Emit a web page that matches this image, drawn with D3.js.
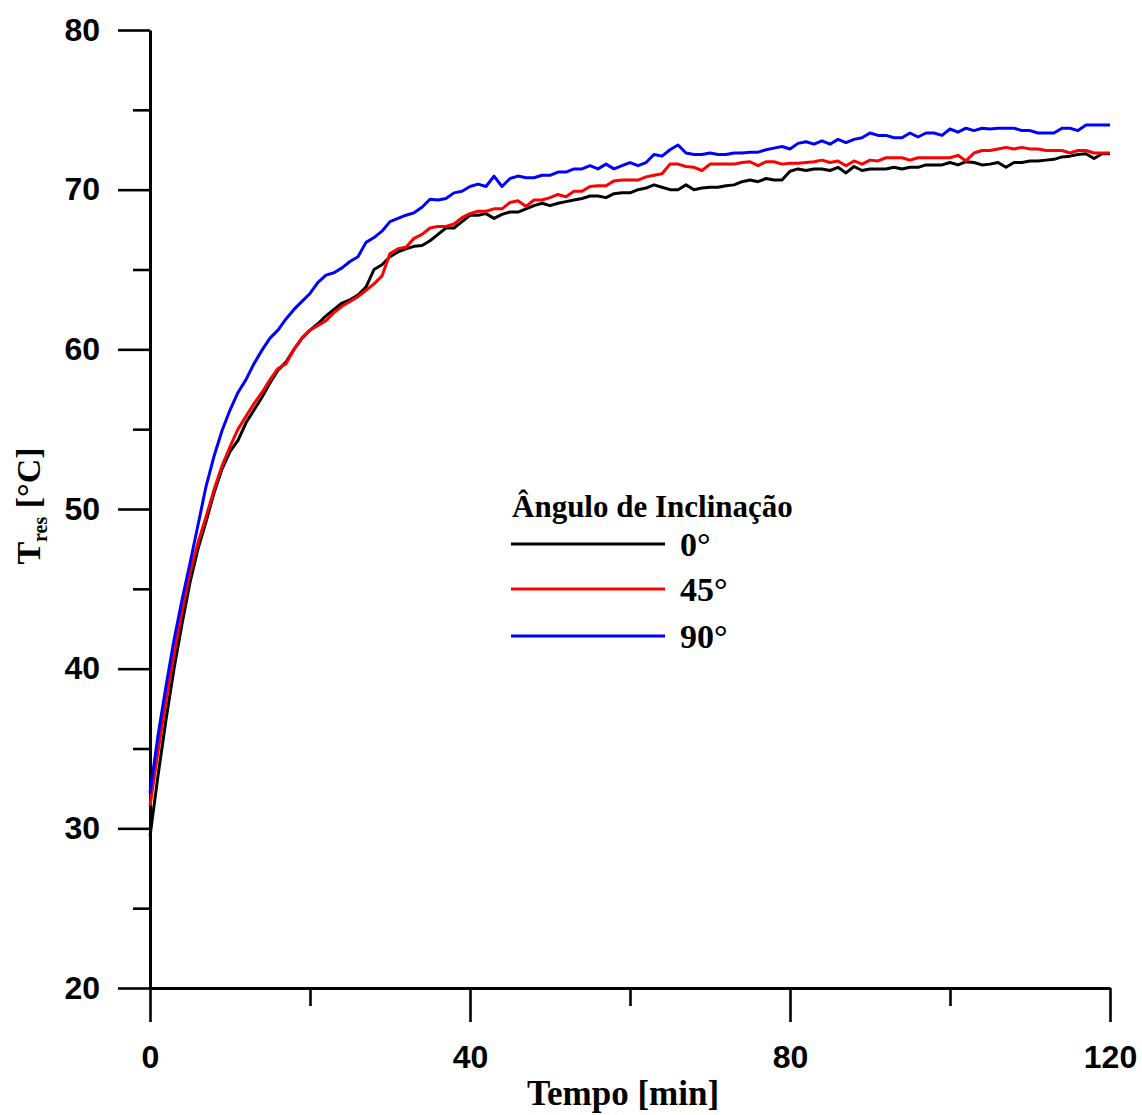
<!DOCTYPE html>
<html>
<head>
<meta charset="utf-8">
<script src="https://cdn.jsdelivr.net/npm/d3@7"></script>
<style>
  html, body { margin: 0; padding: 0; background: #fff; }
  svg { display: block; }
  .tick text { font-family: "Liberation Sans", Arial, sans-serif; font-weight: bold; font-size: 32px; fill: #000; }
  .serif { font-family: "Liberation Serif", "Times New Roman", serif; font-weight: bold; fill: #000; }
</style>
</head>
<body>
<svg id="chart" width="1142" height="1115"></svg>
<script>
// ---- data ----
const tempo = [0,1,2,3,4,5,6,7,8,9,10,11,12,13,14,15,16,17,18,19,20,21,22,23,24,25,26,27,28,29,30,31,32,33,34,35,36,37,38,39,40,41,42,43,44,45,46,47,48,49,50,51,52,53,54,55,56,57,58,59,60,61,62,63,64,65,66,67,68,69,70,71,72,73,74,75,76,77,78,79,80,81,82,83,84,85,86,87,88,89,90,91,92,93,94,95,96,97,98,99,100,101,102,103,104,105,106,107,108,109,110,111,112,113,114,115,116,117,118,119,120];

const ang0 = [29.5,33.3,36.8,40.0,42.8,45.4,47.5,49.2,51.0,52.5,
  53.6,54.3,55.4,56.2,57.0,57.9,58.7,59.2,60.0,60.7,
  61.2,61.6,62.1,62.5,62.9,63.1,63.4,63.9,65.0,65.3,
  65.8,66.1,66.3,66.45,66.5,66.8,67.2,67.6,67.6,68.0,
  68.4,68.4,68.5,68.2,68.45,68.6,68.6,68.8,69.0,69.15,
  69.0,69.15,69.25,69.35,69.45,69.6,69.6,69.5,69.75,69.8,
  69.8,70.0,70.1,70.3,70.15,70.0,70.0,70.3,70.0,70.1,
  70.15,70.15,70.25,70.3,70.5,70.6,70.5,70.7,70.6,70.6,
  71.15,71.3,71.2,71.3,71.3,71.2,71.4,71.05,71.45,71.2,
  71.3,71.3,71.3,71.4,71.3,71.4,71.4,71.55,71.55,71.55,
  71.7,71.55,71.75,71.7,71.55,71.6,71.7,71.4,71.7,71.7,
  71.8,71.8,71.85,71.9,72.05,72.1,72.2,72.25,71.95,72.25,
  72.25];

const ang45 = [31.4,34.8,38.0,40.9,43.6,46.0,47.9,49.5,51.2,52.7,
  53.9,55.0,55.8,56.6,57.3,58.1,58.8,59.1,60.0,60.7,
  61.2,61.5,61.8,62.3,62.7,63.0,63.3,63.7,64.1,64.6,
  66.0,66.3,66.4,66.95,67.2,67.6,67.7,67.7,67.85,68.25,
  68.5,68.65,68.65,68.8,68.8,69.2,69.3,68.95,69.35,69.35,
  69.5,69.7,69.55,69.9,69.9,70.2,70.25,70.25,70.55,70.6,
  70.6,70.6,70.8,70.9,71.0,71.6,71.6,71.45,71.4,71.2,
  71.6,71.6,71.6,71.6,71.7,71.75,71.5,71.75,71.75,71.6,
  71.65,71.65,71.7,71.75,71.85,71.7,71.8,71.5,71.8,71.6,
  71.85,71.8,72.0,72.0,72.0,71.85,72.0,72.0,72.0,72.0,
  72.0,72.15,71.8,72.3,72.45,72.45,72.55,72.65,72.55,72.65,
  72.55,72.55,72.45,72.45,72.45,72.3,72.45,72.45,72.3,72.3,
  72.3];

const ang90 = [32.2,35.8,38.9,41.8,44.3,46.6,49.0,51.4,53.3,54.9,
  56.2,57.3,58.1,59.1,59.95,60.7,61.2,61.9,62.5,63.0,
  63.5,64.2,64.65,64.8,65.1,65.5,65.8,66.7,67.0,67.4,
  68.0,68.2,68.4,68.55,68.9,69.4,69.35,69.45,69.8,69.9,
  70.2,70.35,70.2,70.85,70.2,70.7,70.85,70.75,70.75,70.9,
  70.9,71.1,71.1,71.3,71.3,71.5,71.3,71.6,71.3,71.5,
  71.7,71.5,71.7,72.2,72.1,72.5,72.8,72.3,72.2,72.2,
  72.3,72.2,72.2,72.3,72.3,72.35,72.35,72.5,72.6,72.7,
  72.55,72.9,73.0,72.85,73.06,72.85,73.15,72.95,73.15,73.25,
  73.55,73.4,73.4,73.25,73.25,73.55,73.3,73.55,73.55,73.4,
  73.8,73.6,73.85,73.7,73.85,73.8,73.85,73.85,73.85,73.7,
  73.7,73.55,73.55,73.55,73.85,73.85,73.7,74.05,74.05,74.05,
  74.05];

const seriesNames = ["0°", "45°", "90°"];
const seriesColors = ["#000000", "#ff0000", "#0000ff"];
const xMajorTicks = [0, 40, 80, 120];
const xMinorTicks = [20, 60, 100];
const yMajorTicks = [20, 30, 40, 50, 60, 70, 80];
const yMinorTicks = [25, 35, 45, 55, 65, 75];
const legendTitle = "Ângulo de Inclinação";
const xTitle = "Tempo [min]";

// ---- drawing ----
const svg = d3.select("#chart");
const x = d3.scaleLinear().domain([0, 120]).range([150, 1110]);
const y = d3.scaleLinear().domain([20, 80]).range([988, 30]);

const seriesData = [ang0, ang45, ang90];

// minor axes
svg.append("g").attr("transform", "translate(0,988)")
  .call(d3.axisBottom(x).tickValues(xMinorTicks).tickSize(18).tickSizeOuter(0).tickFormat(""))
  .call(g => g.select(".domain").remove())
  .call(g => g.selectAll("line").attr("stroke", "#000").attr("stroke-width", 2.6));
svg.append("g").attr("transform", "translate(150,0)")
  .call(d3.axisLeft(y).tickValues(yMinorTicks).tickSize(17).tickSizeOuter(0).tickFormat(""))
  .call(g => g.select(".domain").remove())
  .call(g => g.selectAll("line").attr("stroke", "#000").attr("stroke-width", 2.6));

// major axes
svg.append("g").attr("transform", "translate(0,988)")
  .call(d3.axisBottom(x).tickValues(xMajorTicks).tickSize(34).tickPadding(23).tickSizeOuter(0).tickFormat(d3.format("d")))
  .call(g => g.select(".domain").attr("stroke", "#000").attr("stroke-width", 3))
  .call(g => g.selectAll("line").attr("stroke", "#000").attr("stroke-width", 2.6));
svg.append("g").attr("transform", "translate(150,0)")
  .call(d3.axisLeft(y).tickValues(yMajorTicks).tickSize(32).tickPadding(18).tickSizeOuter(0).tickFormat(d3.format("d")))
  .call(g => g.select(".domain").attr("stroke", "#000").attr("stroke-width", 3))
  .call(g => g.selectAll("line").attr("stroke", "#000").attr("stroke-width", 2.6));

// lines
const line = d3.line().x((d, i) => x(tempo[i])).y(d => y(d));
seriesData.forEach((s, k) => {
  svg.append("path").datum(s)
    .attr("fill", "none")
    .attr("stroke", seriesColors[k])
    .attr("stroke-width", 3)
    .attr("stroke-linejoin", "round")
    .attr("d", line);
});

// x title
svg.append("text").attr("class", "serif")
  .attr("x", 623).attr("y", 1105)
  .attr("text-anchor", "middle")
  .style("font-size", "35px")
  .text(xTitle);

// y title
const yt = svg.append("text").attr("class", "serif")
  .attr("transform", "translate(40,506) rotate(-90)")
  .attr("text-anchor", "middle")
  .style("font-size", "34px");
yt.append("tspan").text("T");
yt.append("tspan").attr("dy", 7).style("font-size", "20px").text("res");
yt.append("tspan").attr("dy", -7).text(" [°C]");

// legend
svg.append("text").attr("class", "serif")
  .attr("x", 512).attr("y", 517)
  .style("font-size", "31px")
  .text(legendTitle);
const legY = [544, 589, 636];
seriesNames.forEach((n, k) => {
  svg.append("line")
    .attr("x1", 511).attr("x2", 665)
    .attr("y1", legY[k]).attr("y2", legY[k])
    .attr("stroke", seriesColors[k]).attr("stroke-width", 3);
  svg.append("text").attr("class", "serif")
    .attr("x", 680).attr("y", legY[k] + 12)
    .style("font-size", "34px")
    .text(n);
});
</script>
</body>
</html>
